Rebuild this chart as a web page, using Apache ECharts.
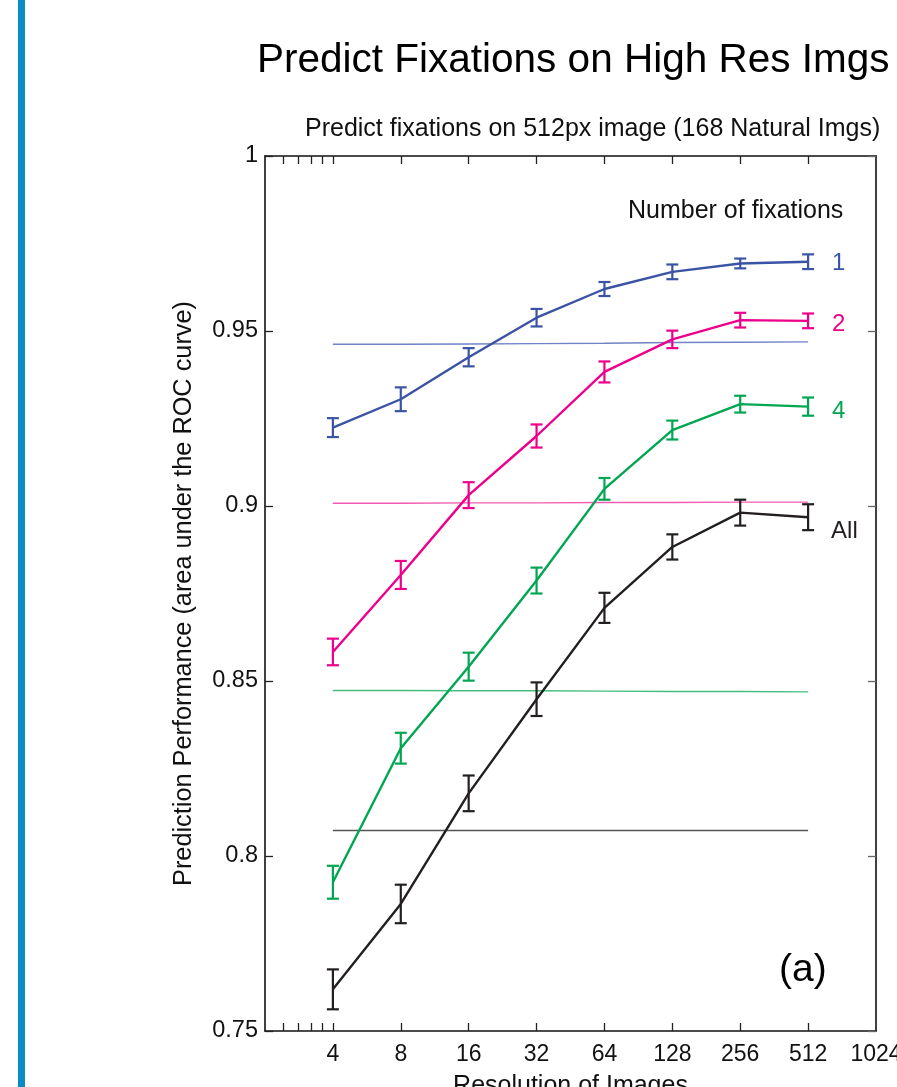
<!DOCTYPE html>
<html>
<head>
<meta charset="utf-8">
<script src="https://cdn.jsdelivr.net/npm/echarts@6/dist/echarts.min.js"></script>
<style>
  html, body { margin: 0; padding: 0; background: #fff; overflow: hidden; }
  #side { position: absolute; left: 18px; top: 0; width: 7px; height: 1087px; background: #0a8bc5; }
  #chart { width: 897px; height: 1087px; }
</style>
</head>
<body>
<div id="side"></div>
<div id="chart"></div>
<script>
// resolution of images (px), log2 axis
const resolutions = [4, 8, 16, 32, 64, 128, 256, 512];
const xLabels = [4, 8, 16, 32, 64, 128, 256, 512, 1024];
const xMinorTicks = [2.4, 2.8, 3.2, 3.6];
const yTicks = [0.75, 0.8, 0.85, 0.9, 0.95, 1];

// number of fixations: 1, 2, 4, All
const fix1 = [0.9224, 0.9305, 0.9425, 0.9538, 0.9620, 0.9669, 0.9693, 0.9698];
const err1 = [0.0027, 0.0034, 0.0026, 0.0025, 0.0020, 0.0021, 0.0014, 0.0021];
const fix2 = [0.8583, 0.8803, 0.9031, 0.9200, 0.9383, 0.9476, 0.9531, 0.9529];
const err2 = [0.0038, 0.0040, 0.0037, 0.0033, 0.0030, 0.0025, 0.0021, 0.0021];
const fix4 = [0.7925, 0.8308, 0.8541, 0.8787, 0.9049, 0.9217, 0.9291, 0.9284];
const err4 = [0.0047, 0.0044, 0.0040, 0.0037, 0.0031, 0.0027, 0.0024, 0.0026];
const fixAll = [0.7619, 0.7863, 0.8179, 0.8448, 0.8709, 0.8883, 0.8981, 0.8968];
const errAll = [0.0057, 0.0055, 0.0051, 0.0048, 0.0043, 0.0036, 0.0037, 0.0037];

// thin reference lines
const base1 = [0.9462, 0.9462, 0.9463, 0.9464, 0.9465, 0.9467, 0.9468, 0.9469];
const base2 = [0.9008, 0.9008, 0.9009, 0.9009, 0.9010, 0.9010, 0.9011, 0.9011];
const base4 = [0.8473, 0.8473, 0.8472, 0.8472, 0.8471, 0.8470, 0.8470, 0.8469];
const baseAll = [0.8073, 0.8073, 0.8073, 0.8073, 0.8073, 0.8073, 0.8073, 0.8073];

const FONT = '"Liberation Sans", Arial, Helvetica, sans-serif';

const groups = [
  { name: '1', vals: fix1, errs: err1, base: base1, color: '#3a53a4', light: '#7083c6', offset: [2, 2] },
  { name: '2', vals: fix2, errs: err2, base: base2, color: '#ec008c', light: '#f25bb1', offset: [2, 4] },
  { name: '4', vals: fix4, errs: err4, base: base4, color: '#00a651', light: '#45bd7e', offset: [2, 5] },
  { name: 'All', vals: fixAll, errs: errAll, base: baseAll, color: '#231f20', light: '#555555', offset: [1, 14] }
];

const pairs = arr => resolutions.map((r, i) => [r, arr[i]]);

function errorBar(color) {
  return function (params, api) {
    const x = api.value(0);
    const hi = api.coord([x, api.value(2)]);
    const lo = api.coord([x, api.value(1)]);
    const w = 6;
    const style = { stroke: color, lineWidth: 2.2 };
    return {
      type: 'group',
      children: [
        { type: 'line', shape: { x1: hi[0], y1: hi[1], x2: lo[0], y2: lo[1] }, style },
        { type: 'line', shape: { x1: hi[0] - w, y1: hi[1], x2: hi[0] + w, y2: hi[1] }, style },
        { type: 'line', shape: { x1: lo[0] - w, y1: lo[1], x2: lo[0] + w, y2: lo[1] }, style }
      ]
    };
  };
}

const series = [];
groups.forEach(g => {
  series.push({
    type: 'line',
    data: pairs(g.base),
    showSymbol: false,
    silent: true,
    z: 1,
    lineStyle: { color: g.light, width: 1.4 }
  });
});
groups.forEach(g => {
  series.push({
    type: 'line',
    data: pairs(g.vals),
    showSymbol: false,
    z: 3,
    lineStyle: { color: g.color, width: 2.4 },
    endLabel: {
      show: true,
      formatter: g.name,
      color: g.color,
      fontFamily: FONT,
      fontSize: 24,
      distance: 22,
      offset: g.offset
    }
  });
  series.push({
    type: 'custom',
    renderItem: errorBar(g.color),
    data: resolutions.map((r, i) => [r, g.vals[i] - g.errs[i], g.vals[i] + g.errs[i]]),
    encode: { x: 0, y: [1, 2] },
    z: 4
  });
});

const tickStyle = { inside: true, length: 8, lineStyle: { color: '#222', width: 1.3 } };
const axisLine = { show: true, onZero: false, lineStyle: { color: '#111', width: 1.6 } };

const option = {
  animation: false,
  title: [
    {
      text: 'Predict Fixations on High Res Imgs',
      left: 252, top: 35,
      textStyle: { fontFamily: FONT, fontSize: 40.5, fontWeight: 'normal', color: '#000' }
    },
    {
      text: 'Predict fixations on 512px image (168 Natural Imgs)',
      left: 300, top: 112,
      textStyle: { fontFamily: FONT, fontSize: 25, fontWeight: 'normal', color: '#111' }
    }
  ],
  grid: { left: 265, right: 21, top: 156, bottom: 56, outerBoundsMode: 'none', containLabel: false },
  xAxis: [
    {
      type: 'log', logBase: 2, min: 2, max: 1024, position: 'bottom',
      axisLine,
      axisTick: Object.assign({ customValues: xMinorTicks.concat(resolutions) }, tickStyle),
      axisLabel: {
        customValues: xLabels, formatter: v => String(Math.round(v)),
        color: '#111', fontFamily: FONT, fontSize: 23, margin: 12
      },
      splitLine: { show: false },
      name: 'Resolution of Images',
      nameLocation: 'middle', nameGap: 43,
      nameTextStyle: { fontFamily: FONT, fontSize: 25, color: '#111' }
    },
    {
      type: 'log', logBase: 2, min: 2, max: 1024, position: 'top',
      axisLine,
      axisTick: Object.assign({ customValues: xMinorTicks.concat(resolutions) }, tickStyle),
      axisLabel: { show: false },
      splitLine: { show: false }
    }
  ],
  yAxis: [
    {
      type: 'value', min: 0.75, max: 1, interval: 0.05, position: 'left',
      axisLine,
      axisTick: Object.assign({ customValues: yTicks }, tickStyle),
      axisLabel: { customValues: yTicks, color: '#111', fontFamily: FONT, fontSize: 23.5, margin: 7 },
      splitLine: { show: false },
      name: 'Prediction Performance (area under the ROC curve)',
      nameLocation: 'middle', nameGap: 68,
      nameTextStyle: { fontFamily: FONT, fontSize: 25.3, color: '#111' }
    },
    {
      type: 'value', min: 0.75, max: 1, interval: 0.05, position: 'right',
      axisLine,
      axisTick: { inside: true, length: 8, lineStyle: { color: '#666', width: 1.3 } },
      axisLabel: { show: false },
      splitLine: { show: false }
    }
  ],
  graphic: [
    {
      type: 'text', left: 628, top: 199,
      style: { text: 'Number of fixations', fontFamily: FONT, fontSize: 25, fill: '#111' }
    },
    {
      type: 'text', left: 779, top: 951,
      style: { text: '(a)', fontFamily: FONT, fontSize: 39, fill: '#000' }
    }
  ],
  series
};

const chart = echarts.init(document.getElementById('chart'));
chart.setOption(option);
</script>
</body>
</html>
